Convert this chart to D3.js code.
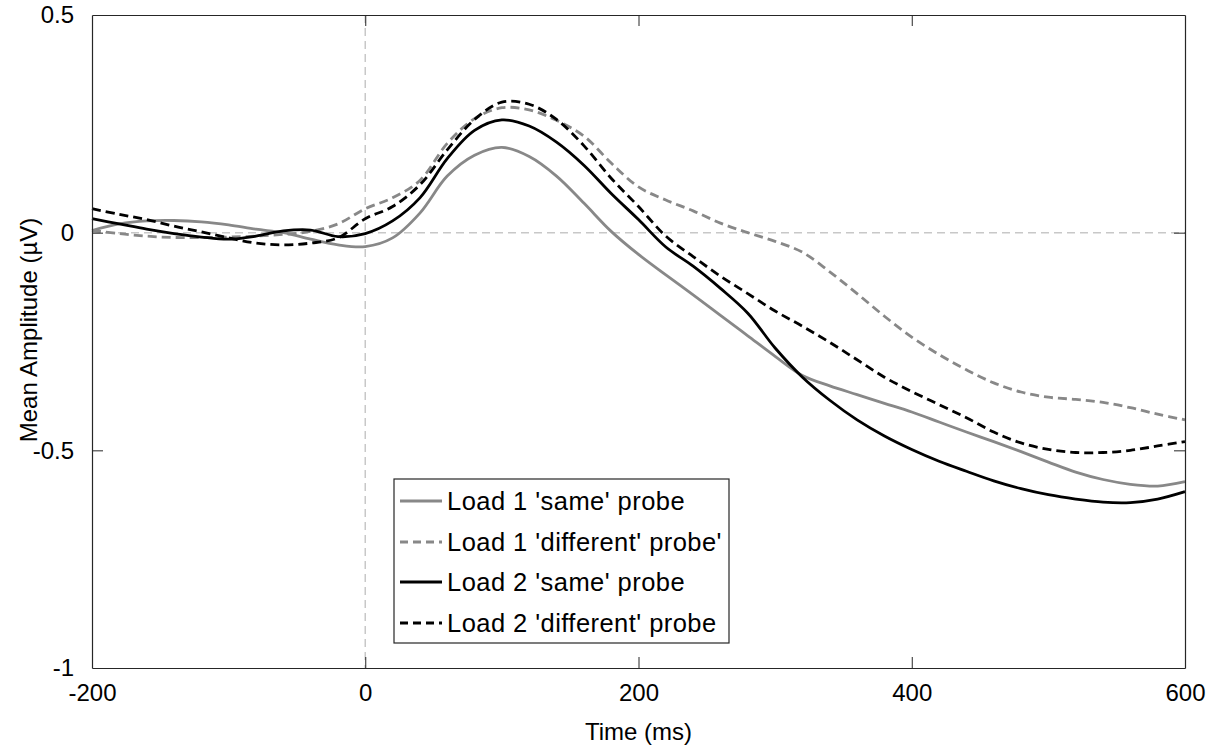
<!DOCTYPE html>
<html><head><meta charset="utf-8">
<script src="https://cdn.jsdelivr.net/npm/d3@7"></script>
<style>
html,body{margin:0;padding:0;background:#fff;}
svg text{font-family:"Liberation Sans",Arial,Helvetica,sans-serif;fill:#000;}
</style></head>
<body><svg id="chart" width="1219" height="752"></svg>
<script>
const times = [-200,-180,-160,-140,-120,-100,-80,-60,-40,-20,0,20,40,60,80,100,120,140,160,180,200,220,240,260,280,300,320,340,360,380,400,420,440,460,480,500,520,540,560,580,600];
const load1Same = [0.005,0.02,0.027,0.028,0.025,0.018,0.008,0.0,-0.015,-0.028,-0.032,-0.012,0.045,0.13,0.178,0.196,0.175,0.13,0.068,0.003,-0.05,-0.097,-0.143,-0.19,-0.237,-0.284,-0.328,-0.352,-0.372,-0.392,-0.412,-0.435,-0.458,-0.48,-0.503,-0.527,-0.55,-0.567,-0.578,-0.582,-0.572];
const load1Diff = [0.005,-0.002,-0.008,-0.011,-0.011,-0.01,-0.008,-0.004,0.003,0.02,0.055,0.08,0.12,0.205,0.262,0.287,0.282,0.258,0.222,0.16,0.105,0.075,0.05,0.022,0.0,-0.02,-0.045,-0.09,-0.14,-0.192,-0.24,-0.28,-0.315,-0.345,-0.366,-0.378,-0.383,-0.39,-0.402,-0.417,-0.43];
const load2Same = [0.032,0.02,0.008,-0.002,-0.01,-0.015,-0.008,0.004,0.006,-0.009,-0.002,0.027,0.08,0.17,0.235,0.259,0.245,0.208,0.155,0.09,0.03,-0.033,-0.077,-0.128,-0.185,-0.265,-0.332,-0.385,-0.43,-0.467,-0.498,-0.525,-0.548,-0.57,-0.588,-0.602,-0.612,-0.619,-0.62,-0.612,-0.595];
const load2Diff = [0.055,0.042,0.03,0.015,0.002,-0.012,-0.024,-0.028,-0.024,-0.012,0.032,0.06,0.11,0.19,0.26,0.3,0.295,0.26,0.2,0.125,0.06,-0.008,-0.055,-0.1,-0.14,-0.18,-0.215,-0.252,-0.292,-0.332,-0.365,-0.395,-0.425,-0.458,-0.483,-0.498,-0.505,-0.505,-0.5,-0.49,-0.48];
const seriesNames = ["Load 1 'same' probe","Load 1 'different' probe'","Load 2 'same' probe","Load 2 'different' probe"];
const xTicks = [-200,0,200,400,600];
const xTickLabels = ["-200","0","200","400","600"];
const yTicks = [-1,-0.5,0,0.5];
const yTickLabels = ["-1","-0.5","0","0.5"];

const svg = d3.select("#chart");
const L = 92, T = 15, R = 1185, B = 668;
const x = d3.scaleLinear().domain([-200,600]).range([L,R]);
const y = d3.scaleLinear().domain([-1,0.5]).range([B,T]);

const styles = [
  {color:"#888888", dash:null},
  {color:"#888888", dash:"9,5"},
  {color:"#000000", dash:null},
  {color:"#000000", dash:"9,5"}
];
const data = [load1Same, load1Diff, load2Same, load2Diff];

// zero reference lines
svg.append("line").attr("x1",x(0)).attr("x2",x(0)).attr("y1",T).attr("y2",B)
  .attr("stroke","#c8c8c8").attr("stroke-width",1.5).attr("stroke-dasharray","8,5");
svg.append("line").attr("x1",L).attr("x2",R).attr("y1",y(0)).attr("y2",y(0))
  .attr("stroke","#c8c8c8").attr("stroke-width",1.5).attr("stroke-dasharray","8,5");

// data lines
const line = d3.line().x((d,i)=>x(times[i])).y(d=>y(d)).curve(d3.curveCatmullRom.alpha(0.5));
data.forEach((vals,k)=>{
  svg.append("path").datum(vals).attr("d",line).attr("fill","none")
    .attr("stroke",styles[k].color).attr("stroke-width",2.8)
    .attr("stroke-dasharray",styles[k].dash);
});

// axes (box with inward ticks)
const tickLen = 11;
const xAxisB = d3.axisBottom(x).tickValues(xTicks).tickSizeInner(-tickLen).tickSizeOuter(0).tickPadding(16).tickFormat((d,i)=>xTickLabels[i]);
const xAxisT = d3.axisTop(x).tickValues(xTicks).tickSizeInner(-tickLen).tickSizeOuter(0).tickFormat("");
const yAxisL = d3.axisLeft(y).tickValues(yTicks).tickSizeInner(-tickLen).tickSizeOuter(0).tickPadding(18).tickFormat((d,i)=>yTickLabels[i]);
const yAxisR = d3.axisRight(y).tickValues(yTicks).tickSizeInner(-tickLen).tickSizeOuter(0).tickFormat("");
const gB = svg.append("g").attr("transform",`translate(0,${B})`).call(xAxisB);
const gT = svg.append("g").attr("transform",`translate(0,${T})`).call(xAxisT);
const gL = svg.append("g").attr("transform",`translate(${L},0)`).call(yAxisL);
const gR = svg.append("g").attr("transform",`translate(${R},0)`).call(yAxisR);
[gB,gT,gL,gR].forEach(g=>{
  g.attr("font-size",24).attr("font-family","Liberation Sans, Arial, sans-serif");
  g.select(".domain").attr("stroke","#262626").attr("stroke-width",1.2);
  g.selectAll(".tick line").attr("stroke","#262626").attr("stroke-width",1);
  g.selectAll("text").attr("fill","#000");
});
[gB,gT].forEach(g=>g.selectAll(".tick").filter(d=>d===-200||d===600).select("line").remove());
[gL,gR].forEach(g=>g.selectAll(".tick").filter(d=>d===-1||d===0.5).select("line").remove());

// axis labels
svg.append("text").attr("x",(L+R)/2).attr("y",740).attr("text-anchor","middle")
  .attr("font-size",24).text("Time (ms)");
svg.append("text").attr("transform","translate(37,330) rotate(-90)").attr("text-anchor","middle")
  .attr("font-size",24).text("Mean Amplitude (\u00B5V)");

// legend
const lg = svg.append("g");
lg.append("rect").attr("x",394).attr("y",479).attr("width",335).attr("height",164)
  .attr("fill","#fff").attr("stroke","#262626").attr("stroke-width",1.2);
const rowY = [501,542,582,623];
seriesNames.forEach((name,k)=>{
  lg.append("line").attr("x1",400).attr("x2",442).attr("y1",rowY[k]).attr("y2",rowY[k])
    .attr("stroke",styles[k].color).attr("stroke-width",2.8).attr("stroke-dasharray",styles[k].dash ? "8,5" : null);
  lg.append("text").attr("x",447).attr("y",rowY[k]).attr("dy","0.36em")
    .attr("font-size",25.5).attr("letter-spacing",0.45).text(name);
});
</script></body></html>
